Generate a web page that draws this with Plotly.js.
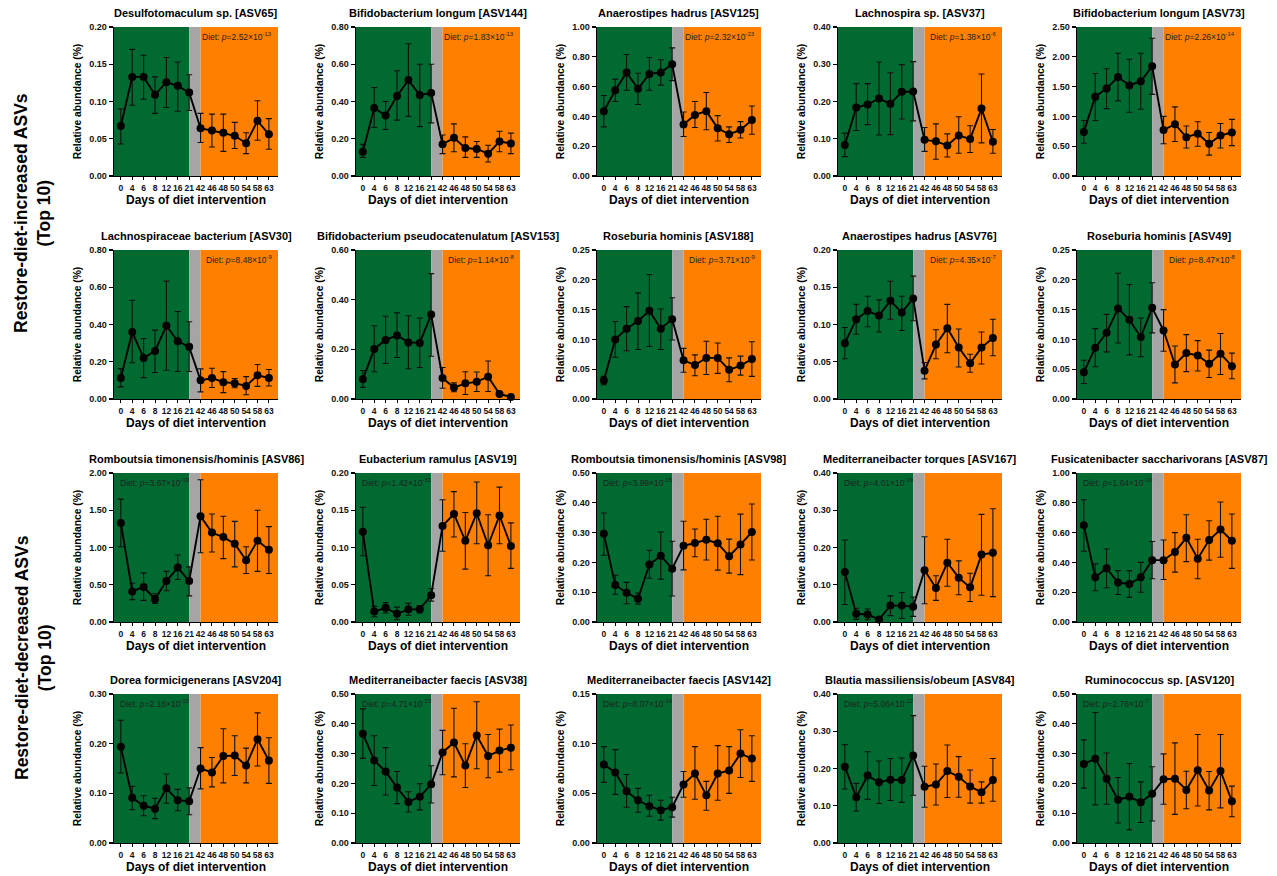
<!DOCTYPE html>
<html>
<head>
<meta charset="utf-8">
<script src="https://cdn.plot.ly/plotly-3.0.1.min.js"></script>
<style>html,body{margin:0;padding:0;background:#fff;}#chart{width:1277px;height:876px;}</style>
</head>
<body>
<div id="chart"></div>
<script>
// ---------------- DATA ----------------
const days = ["0","4","6","8","12","16","21","42","46","48","50","54","58","63"];

const titles = [
  "Desulfotomaculum sp. [ASV65]", "Bifidobacterium longum [ASV144]", "Anaerostipes hadrus [ASV125]", "Lachnospira sp. [ASV37]", "Bifidobacterium longum [ASV73]",
  "Lachnospiraceae bacterium [ASV30]", "Bifidobacterium pseudocatenulatum [ASV153]", "Roseburia hominis [ASV188]", "Anaerostipes hadrus [ASV76]", "Roseburia hominis [ASV49]",
  "Romboutsia timonensis/hominis [ASV86]", "Eubacterium ramulus [ASV19]", "Romboutsia timonensis/hominis [ASV98]", "Mediterraneibacter torques [ASV167]", "Fusicatenibacter saccharivorans [ASV87]",
  "Dorea formicigenerans [ASV204]", "Mediterraneibacter faecis [ASV38]", "Mediterraneibacter faecis [ASV142]", "Blautia massiliensis/obeum [ASV84]", "Ruminococcus sp. [ASV120]"
];

const pMantissa = ["2.52","1.83","2.32","1.38","2.26","8.48","1.14","3.71","4.35","8.47",
                   "3.67","1.42","3.99","4.01","1.64","2.18","4.71","8.07","5.06","2.76"];
const pExponent = ["-13","-13","-23","-6","-14","-9","-8","-9","-7","-8",
                   "-19","-31","-15","-19","-10","-12","-23","-14","-12","-7"];

const yMax  = [0.20,0.80,1.00,0.40,2.50, 0.80,0.60,0.25,0.20,0.25, 2.00,0.20,0.50,0.40,1.00, 0.30,0.50,0.15,0.40,0.50];
const yStep = [0.05,0.20,0.20,0.10,0.50, 0.20,0.20,0.05,0.05,0.05, 0.50,0.05,0.10,0.10,0.20, 0.10,0.10,0.05,0.10,0.10];

const groupLabels = ["Restore-diet-increased ASVs<br>(Top 10)", "Restore-diet-decreased ASVs<br>(Top 10)"];

const means = [
  [0.067,0.133,0.133,0.109,0.126,0.121,0.112,0.064,0.061,0.058,0.054,0.044,0.074,0.056],
  [0.13,0.365,0.325,0.43,0.515,0.435,0.445,0.17,0.205,0.15,0.145,0.12,0.185,0.175],
  [0.435,0.575,0.695,0.585,0.685,0.695,0.75,0.345,0.41,0.435,0.32,0.28,0.31,0.375],
  [0.083,0.184,0.192,0.208,0.194,0.226,0.227,0.097,0.093,0.082,0.109,0.099,0.181,0.092],
  [0.74,1.33,1.47,1.66,1.52,1.59,1.84,0.77,0.87,0.65,0.71,0.54,0.68,0.73],
  [0.113,0.36,0.22,0.258,0.393,0.31,0.28,0.10,0.113,0.09,0.085,0.07,0.127,0.113],
  [0.08,0.201,0.238,0.256,0.228,0.226,0.34,0.085,0.046,0.063,0.069,0.09,0.02,0.008],
  [0.031,0.10,0.118,0.131,0.148,0.118,0.134,0.065,0.057,0.069,0.069,0.049,0.056,0.067],
  [0.075,0.107,0.118,0.112,0.132,0.116,0.135,0.038,0.073,0.095,0.069,0.048,0.069,0.082],
  [0.045,0.086,0.111,0.152,0.133,0.104,0.153,0.115,0.058,0.077,0.073,0.059,0.076,0.055],
  [1.33,0.41,0.47,0.31,0.55,0.73,0.55,1.42,1.20,1.14,1.05,0.83,1.09,0.97],
  [0.121,0.014,0.019,0.011,0.017,0.017,0.036,0.129,0.145,0.109,0.146,0.103,0.143,0.102],
  [0.296,0.124,0.098,0.078,0.193,0.222,0.179,0.256,0.265,0.276,0.264,0.221,0.26,0.302],
  [0.134,0.022,0.02,0.007,0.044,0.044,0.041,0.139,0.091,0.159,0.119,0.093,0.181,0.186],
  [0.65,0.30,0.36,0.265,0.255,0.30,0.415,0.415,0.47,0.565,0.425,0.55,0.62,0.545],
  [0.194,0.091,0.075,0.069,0.11,0.086,0.084,0.15,0.142,0.175,0.176,0.156,0.209,0.166],
  [0.367,0.277,0.24,0.186,0.138,0.155,0.197,0.304,0.337,0.26,0.361,0.292,0.31,0.32],
  [0.079,0.071,0.052,0.043,0.037,0.033,0.036,0.059,0.07,0.048,0.07,0.073,0.09,0.085],
  [0.205,0.123,0.181,0.163,0.17,0.169,0.235,0.151,0.157,0.193,0.178,0.152,0.136,0.169],
  [0.265,0.283,0.216,0.145,0.155,0.137,0.165,0.214,0.216,0.178,0.244,0.176,0.242,0.14]
];
const uppers = [
  [0.090,0.170,0.162,0.133,0.159,0.153,0.136,0.084,0.083,0.083,0.072,0.058,0.101,0.077],
  [0.17,0.475,0.40,0.565,0.71,0.60,0.60,0.22,0.28,0.21,0.185,0.165,0.24,0.23],
  [0.54,0.65,0.815,0.69,0.795,0.78,0.86,0.43,0.50,0.56,0.405,0.33,0.365,0.47],
  [0.115,0.248,0.248,0.306,0.277,0.299,0.307,0.13,0.14,0.113,0.159,0.135,0.274,0.125],
  [0.93,1.72,1.80,2.06,1.96,2.06,2.31,1.00,1.16,0.84,0.91,0.73,0.88,0.95],
  [0.163,0.53,0.325,0.37,0.633,0.47,0.415,0.162,0.165,0.147,0.11,0.12,0.185,0.158],
  [0.115,0.295,0.333,0.347,0.335,0.326,0.505,0.127,0.065,0.11,0.109,0.153,0.023,0.01],
  [0.038,0.13,0.155,0.178,0.209,0.151,0.17,0.085,0.074,0.097,0.094,0.069,0.072,0.096],
  [0.096,0.127,0.138,0.133,0.158,0.138,0.165,0.049,0.093,0.127,0.094,0.06,0.09,0.107],
  [0.065,0.118,0.142,0.211,0.192,0.136,0.195,0.15,0.089,0.108,0.098,0.082,0.11,0.077],
  [1.65,0.52,0.66,0.38,0.68,0.90,0.74,1.91,1.45,1.42,1.35,1.01,1.50,1.28],
  [0.154,0.021,0.026,0.02,0.025,0.022,0.045,0.164,0.175,0.147,0.188,0.144,0.181,0.133],
  [0.366,0.157,0.133,0.097,0.241,0.302,0.271,0.338,0.312,0.345,0.355,0.278,0.362,0.396],
  [0.22,0.037,0.035,0.009,0.07,0.079,0.067,0.229,0.124,0.222,0.164,0.131,0.289,0.304],
  [0.82,0.39,0.49,0.345,0.345,0.40,0.54,0.55,0.60,0.72,0.555,0.68,0.805,0.725],
  [0.247,0.114,0.095,0.09,0.139,0.108,0.111,0.192,0.172,0.23,0.216,0.191,0.262,0.212],
  [0.45,0.36,0.32,0.24,0.172,0.199,0.259,0.378,0.452,0.333,0.474,0.364,0.382,0.396],
  [0.097,0.094,0.069,0.055,0.048,0.043,0.046,0.072,0.097,0.062,0.098,0.097,0.114,0.108],
  [0.264,0.16,0.245,0.22,0.227,0.228,0.342,0.206,0.212,0.263,0.232,0.196,0.164,0.227],
  [0.346,0.438,0.302,0.22,0.267,0.205,0.256,0.299,0.336,0.241,0.364,0.24,0.364,0.191]
];
const lowers = [
  [0.043,0.095,0.103,0.084,0.092,0.087,0.088,0.045,0.039,0.033,0.037,0.030,0.048,0.036],
  [0.10,0.26,0.25,0.30,0.32,0.265,0.285,0.12,0.13,0.10,0.10,0.075,0.13,0.12],
  [0.33,0.50,0.575,0.48,0.575,0.61,0.64,0.265,0.325,0.31,0.235,0.225,0.255,0.28],
  [0.052,0.122,0.138,0.11,0.111,0.153,0.148,0.066,0.045,0.051,0.061,0.063,0.089,0.061],
  [0.55,0.93,1.13,1.26,1.07,1.12,1.37,0.54,0.58,0.47,0.50,0.35,0.47,0.51],
  [0.065,0.195,0.115,0.142,0.154,0.148,0.148,0.038,0.062,0.034,0.06,0.023,0.068,0.07],
  [0.047,0.11,0.143,0.167,0.122,0.127,0.172,0.043,0.029,0.018,0.03,0.03,0.017,0.006],
  [0.024,0.07,0.081,0.083,0.088,0.083,0.099,0.045,0.039,0.041,0.043,0.029,0.04,0.038],
  [0.054,0.087,0.097,0.09,0.107,0.092,0.105,0.027,0.054,0.062,0.043,0.036,0.047,0.058],
  [0.026,0.054,0.079,0.094,0.074,0.071,0.111,0.08,0.027,0.046,0.047,0.036,0.041,0.034],
  [1.01,0.30,0.29,0.25,0.42,0.57,0.35,0.93,0.94,0.85,0.74,0.65,0.68,0.65],
  [0.089,0.007,0.012,0.003,0.009,0.012,0.028,0.095,0.114,0.071,0.105,0.062,0.105,0.072],
  [0.224,0.093,0.061,0.06,0.147,0.144,0.087,0.175,0.219,0.208,0.174,0.164,0.159,0.208],
  [0.047,0.007,0.006,0.002,0.017,0.01,0.015,0.049,0.058,0.096,0.073,0.055,0.072,0.068],
  [0.475,0.21,0.23,0.185,0.165,0.20,0.29,0.285,0.335,0.405,0.29,0.415,0.435,0.36],
  [0.141,0.067,0.055,0.049,0.08,0.065,0.057,0.109,0.113,0.121,0.136,0.121,0.155,0.12],
  [0.284,0.193,0.161,0.132,0.104,0.111,0.134,0.229,0.222,0.186,0.249,0.219,0.238,0.246],
  [0.061,0.049,0.036,0.031,0.027,0.023,0.026,0.046,0.044,0.033,0.043,0.05,0.066,0.062],
  [0.145,0.086,0.117,0.106,0.114,0.109,0.128,0.096,0.102,0.122,0.123,0.107,0.107,0.112],
  [0.184,0.128,0.13,0.067,0.044,0.069,0.074,0.13,0.096,0.115,0.124,0.111,0.118,0.088]
];

// ---------------- LAYOUT GEOMETRY ----------------
const W = 1277, H = 876;
const colLeft = [114, 356, 597, 838, 1077];
const rowTop = [27, 250, 473, 694];
const plotW = 164, plotH = 149;
const xLo = -0.6, xHi = 13.8;
const GREEN = "#006A31", GRAY = "#A5A5A5", ORANGE = "#FF8000";
const FONT = "Liberation Sans, Arial, Helvetica, sans-serif";

const traces = [], shapes = [], annotations = [];
const layout = {
  width: W, height: H, margin: {l:0, r:0, t:0, b:0},
  paper_bgcolor: "#fff", plot_bgcolor: "#fff", showlegend: false,
  font: {family: FONT, color: "#000"}
};

const xIdx = days.map((d, i) => i);

for (let k = 0; k < 20; k++) {
  const r = Math.floor(k / 5), c = k % 5;
  const n = k + 1, sx = n === 1 ? "" : String(n);
  const L = colLeft[c], T = rowTop[r];
  const increased = r < 2;

  layout["xaxis" + sx] = {
    domain: [L / W, (L + plotW) / W], anchor: "y" + sx,
    range: [xLo, xHi], tickmode: "array", tickvals: xIdx, ticktext: days,
    tickangle: 0, showgrid: false, zeroline: false,
    showline: true, linecolor: "#000", linewidth: 1.3,
    ticks: "outside", ticklen: 3, tickwidth: 1, tickcolor: "#000",
    tickfont: {size: 8.5, family: FONT, weight: "bold", color: "#111"},
    title: {text: "Days of diet intervention", font: {size: 12, family: FONT, weight: "bold", color: "#000"}, standoff: 3},
    automargin: false, fixedrange: true
  };
  layout["yaxis" + sx] = {
    domain: [1 - (T + plotH) / H, 1 - T / H], anchor: "x" + sx,
    range: [0, yMax[k]], dtick: yStep[k], tick0: 0, tickformat: ".2f",
    showgrid: false, zeroline: false,
    showline: true, linecolor: "#000", linewidth: 1.3,
    ticks: "outside", ticklen: 4, tickwidth: 1.2, tickcolor: "#000",
    tickfont: {size: 9, family: FONT, weight: "bold", color: "#111"},
    title: {text: "Relative abundance (%)", font: {size: 10.3, family: FONT, weight: "bold", color: "#000"}, standoff: 5},
    automargin: false, fixedrange: true
  };

  const regions = [[xLo, 6, GREEN], [6, 7, GRAY], [7, xHi, ORANGE]];
  regions.forEach(([a, b, col]) => shapes.push({
    type: "rect", xref: "x" + sx, yref: "y" + sx, x0: a, x1: b, y0: 0, y1: yMax[k],
    fillcolor: col, line: {width: 0}, layer: "below"
  }));

  traces.push({
    type: "scatter", mode: "lines+markers", xaxis: "x" + sx, yaxis: "y" + sx,
    x: xIdx, y: means[k],
    line: {color: "#000", width: 1.9},
    marker: {color: "#000", size: 8},
    error_y: {
      type: "data", symmetric: false,
      array: uppers[k].map((u, i) => u - means[k][i]),
      arrayminus: lowers[k].map((l, i) => means[k][i] - l),
      color: "#111", thickness: 1.1, width: 3
    },
    hoverinfo: "skip", cliponaxis: false
  });

  annotations.push({
    xref: "paper", yref: "paper", x: (L + plotW / 2) / W, y: 1 - (T - 6) / H,
    xanchor: "center", yanchor: "bottom", showarrow: false,
    text: titles[k], font: {size: 11, family: FONT, weight: "bold", color: "#000"}
  });

  annotations.push({
    xref: "paper", yref: "paper",
    x: increased ? (L + plotW - 4) / W : (L + 4) / W,
    xanchor: increased ? "right" : "left",
    y: 1 - (T + 2) / H, yanchor: "top", showarrow: false,
    text: "Diet: <i>p</i>=" + pMantissa[k] + "×10<sup>" + pExponent[k] + "</sup>",
    font: {size: 8.5, family: FONT, color: "#222"}
  });
}

// group labels
[[213, groupLabels[0]], [658, groupLabels[1]]].forEach(([cy, txt]) => annotations.push({
  xref: "paper", yref: "paper", x: 33 / W, y: 1 - cy / H, xanchor: "center", yanchor: "middle",
  showarrow: false, textangle: -90, text: txt,
  font: {size: 17.5, family: FONT, weight: "bold", color: "#000"}
}));

layout.shapes = shapes;
layout.annotations = annotations;

Plotly.newPlot("chart", traces, layout, {staticPlot: true, displayModeBar: false});
</script>
</body>
</html>
